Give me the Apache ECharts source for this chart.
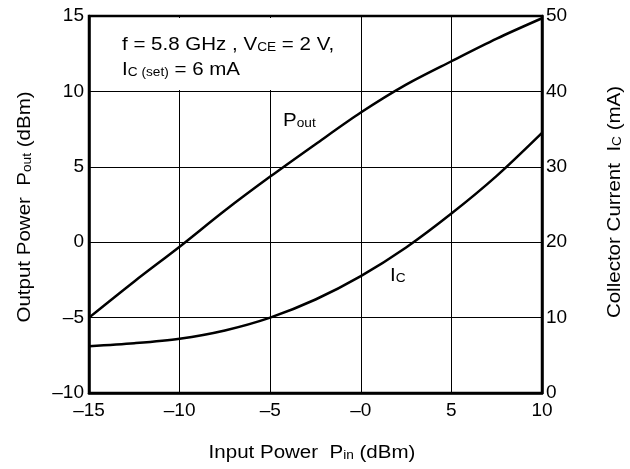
<!DOCTYPE html>
<html>
<head>
<meta charset="utf-8">
<script src="https://cdn.jsdelivr.net/npm/echarts@6/dist/echarts.min.js"></script>
<style>html,body{margin:0;padding:0;background:#fff;}#c{width:630px;height:469px;}</style>
</head>
<body>
<div id="c"></div>
<script>
// Input power (dBm)
var pin = [-15, -12.5, -10, -7.5, -5, -2.5, 0, 2.5, 5, 7.5, 10];
// Output power (dBm)
var pout = [-5, -2.6, -0.3, 2.1, 4.35, 6.5, 8.6, 10.45, 12.0, 13.5, 14.85];
// Collector current (mA)
var ic = [6.2, 6.6, 7.2, 8.3, 10.0, 12.4, 15.5, 19.3, 23.8, 28.8, 34.5];
// Tick labels
var xTicks = [-15, -10, -5, 0, 5, 10];
var xTickLabels = ['\u201315', '\u201310', '\u20135', '\u20130', '5', '10'];
var yLeftTicks = [-10, -5, 0, 5, 10, 15];
var yLeftTickLabels = ['\u201310', '\u20135', '0', '5', '10', '15'];
var yRightTicks = [0, 10, 20, 30, 40, 50];
var yRightTickLabels = ['0', '10', '20', '30', '40', '50'];

var FONT = '"Liberation Sans", Arial, Helvetica, sans-serif';
function lookup(ticks, labels) {
  return function (v) {
    for (var i = 0; i < ticks.length; i++) if (Math.abs(ticks[i] - v) < 1e-9) return labels[i];
    return '';
  };
}
function pairs(xs, ys) { return xs.map(function (x, i) { return [x, ys[i]]; }); }

var chart = echarts.init(document.getElementById('c'));
var rich = {
  a: { fontFamily: FONT, fontSize: 18, color: '#000' },
  s: { fontFamily: FONT, fontSize: 12, color: '#000', verticalAlign: 'bottom' }
};
var SX = 1.14;
function label(text, x, y, align, rot) {
  return { type: 'text', x: x, y: y, rotation: rot || 0, scaleX: SX, scaleY: 1, z: 10,
    style: { text: text, rich: rich, align: align, verticalAlign: 'middle' } };
}
chart.setOption({
  animation: false,
  backgroundColor: '#fff',
  grid: { left: 89, right: 88, top: 16, bottom: 76, show: true, borderColor: '#000', borderWidth: 2.5, backgroundColor: 'transparent' },
  xAxis: {
    type: 'value', min: -15, max: 10, interval: 5,
    axisLine: { show: true, onZero: false, lineStyle: { color: '#000', width: 2.5 } },
    axisTick: { show: false },
    splitLine: { show: true, lineStyle: { color: '#000', width: 1 } },
    axisLabel: { formatter: lookup(xTicks, xTickLabels), fontFamily: FONT, fontSize: 19, color: '#000', margin: 8 }
  },
  yAxis: [{
    type: 'value', min: -10, max: 15, interval: 5,
    axisLine: { show: true, onZero: false, lineStyle: { color: '#000', width: 2.5 } },
    axisTick: { show: false },
    splitLine: { show: true, lineStyle: { color: '#000', width: 1 } },
    axisLabel: { formatter: lookup(yLeftTicks, yLeftTickLabels), fontFamily: FONT, fontSize: 19, color: '#000', margin: 5 }
  }, {
    type: 'value', min: 0, max: 50, interval: 10, position: 'right',
    axisLine: { show: true, onZero: false, lineStyle: { color: '#000', width: 2.5 } },
    axisTick: { show: false },
    splitLine: { show: false },
    axisLabel: { formatter: lookup(yRightTicks, yRightTickLabels), fontFamily: FONT, fontSize: 19, color: '#000', margin: 4 }
  }],
  series: [{
    name: 'Pout', type: 'line', yAxisIndex: 0, data: pairs(pin, pout), z: 5,
    smooth: 0.3, showSymbol: false, lineStyle: { color: '#000', width: 2.5 }
  }, {
    name: 'IC', type: 'line', yAxisIndex: 1, data: pairs(pin, ic), z: 5,
    smooth: 0.3, showSymbol: false, lineStyle: { color: '#000', width: 2.5 }
  }],
  graphic: [
    { type: 'rect', z: 1, shape: { x: 91, y: 18, width: 267, height: 72 }, style: { fill: '#fff' } },
    label('{a|f = 5.8 GHz , V}{s|CE}{a| = 2 V,}', 122, 45, 'left'),
    label('{a|I}{s|C (set)}{a| = 6 mA}', 122, 70, 'left'),
    label('{a|P}{s|out}', 283, 121, 'left'),
    label('{a|I}{s|C}', 390, 276, 'left'),
    label('{a|Input Power  P}{s|in}{a| (dBm)}', 312, 453, 'center'),
    label('{a|Output Power  P}{s|out}{a| (dBm)}', 25, 207, 'center', Math.PI / 2),
    label('{a|Collector Current  I}{s|C}{a| (mA)}', 615, 202, 'center', Math.PI / 2)
  ]
});
</script>
</body>
</html>
